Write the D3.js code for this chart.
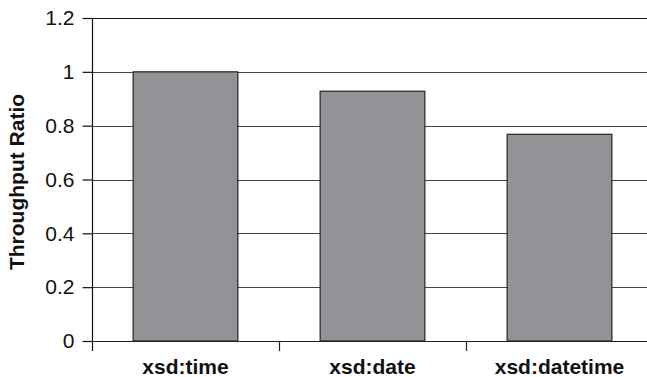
<!DOCTYPE html>
<html><head><meta charset="utf-8">
<script src="https://cdn.jsdelivr.net/npm/d3@7"></script>
<style>body{margin:0;background:#fff}svg{display:block}</style>
</head><body>
<script>
const categories = ["xsd:time", "xsd:date", "xsd:datetime"];
const values = [1.0, 0.928, 0.768];
const yTicks = [0, 0.2, 0.4, 0.6, 0.8, 1, 1.2];
const yLabel = "Throughput Ratio";

const W = 647, H = 377;
const svg = d3.select("body").append("svg").attr("width", W).attr("height", H);
const x0 = 92, bandW = 187;
const x = d3.scaleBand().domain(categories).range([x0, x0 + 3 * bandW]).paddingInner(0.44).paddingOuter(0.22);
const y = d3.scaleLinear().domain([0, 1.2]).range([341, 18]);
const font = "Liberation Sans, Arial, sans-serif";

// gridlines
svg.append("g").selectAll("line").data(yTicks.filter(d => d > 0)).join("line")
  .attr("x1", x0).attr("x2", W).attr("y1", d => Math.round(y(d)) + 0.5).attr("y2", d => Math.round(y(d)) + 0.5)
  .attr("stroke", d => d === 1.2 ? "#111" : "#444").attr("stroke-width", 1.2);

// bars
svg.append("g").selectAll("rect").data(values).join("rect")
  .attr("x", (d, i) => x(categories[i]))
  .attr("width", x.bandwidth())
  .attr("y", d => y(d))
  .attr("height", d => y(0) - y(d))
  .attr("fill", "#929396").attr("stroke", "#222").attr("stroke-width", 1.2);

// y axis
const yAxis = d3.axisLeft(y).tickValues(yTicks).tickFormat(d => d3.format("")(d)).tickSize(10).tickPadding(8);
const gy = svg.append("g").attr("transform", `translate(${x0 + 0.5},0)`).call(yAxis);
gy.select(".domain").attr("stroke", "#111").attr("stroke-width", 1.2).attr("d", `M0,${y(1.2)}V${y(0) + 10}`);
gy.selectAll(".tick line").attr("stroke", "#111").attr("stroke-width", 1.2);
gy.selectAll(".tick text").attr("font-family", font).attr("font-size", 21).attr("fill", "#111");

// x axis
const xb = d3.scaleOrdinal().domain([0, 1, 2, 3]).range([x0, x0 + bandW, x0 + 2 * bandW, x0 + 3 * bandW]);
const gx = svg.append("g");
gx.append("line").attr("x1", x0).attr("x2", W).attr("y1", y(0) + 0.5).attr("y2", y(0) + 0.5)
  .attr("stroke", "#222").attr("stroke-width", 1.2);
gx.selectAll("line.tk").data([1, 2]).join("line").attr("class", "tk")
  .attr("x1", d => xb(d) + 0.5).attr("x2", d => xb(d) + 0.5)
  .attr("y1", y(0)).attr("y2", y(0) + 10).attr("stroke", "#222").attr("stroke-width", 1.2);
gx.selectAll("text").data(categories).join("text")
  .attr("x", d => x(d) + x.bandwidth() / 2).attr("y", 374)
  .attr("text-anchor", "middle").attr("font-family", font).attr("font-weight", "bold")
  .attr("font-size", 21).attr("fill", "#111").text(d => d);

// y label
svg.append("text").attr("transform", `translate(24,182) rotate(-90)`)
  .attr("text-anchor", "middle").attr("font-family", font).attr("font-weight", "bold")
  .attr("font-size", 21).attr("fill", "#111").text(yLabel);
</script>
</body></html>
